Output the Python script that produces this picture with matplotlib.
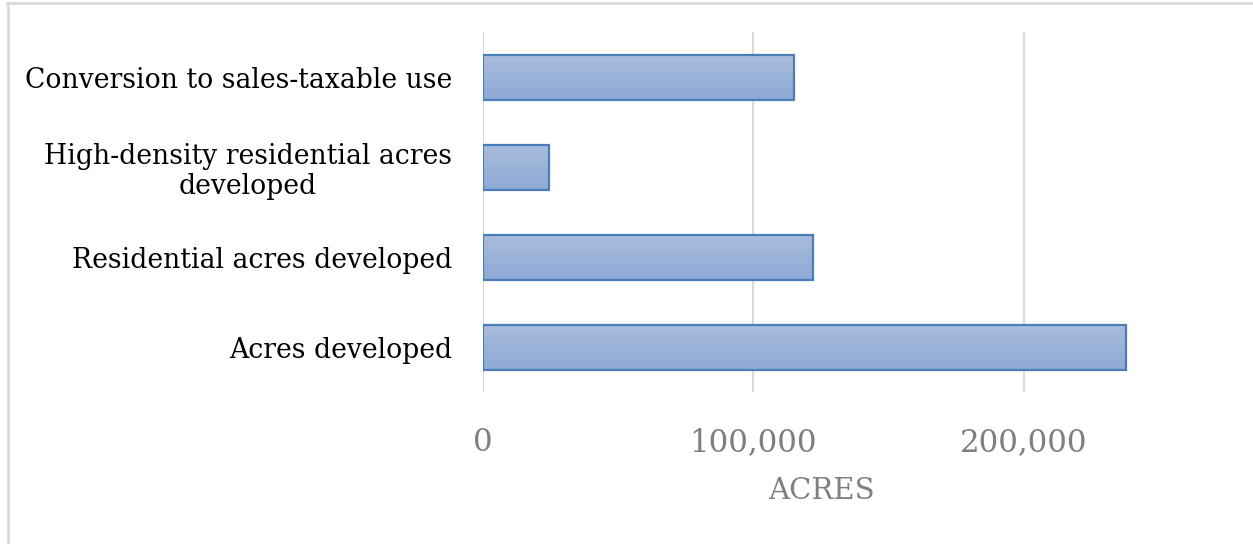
import matplotlib
matplotlib.use("Agg")
import matplotlib.pyplot as plt
import numpy as np
from matplotlib.colors import LinearSegmentedColormap
from matplotlib.lines import Line2D

categories = ["Acres developed", "Residential acres developed",
              "High-density residential acres\ndeveloped", "Conversion to sales-taxable use"]
values = [237700, 122000, 24400, 115000]
xticks = [0, 100000, 200000]
xtick_labels = ["0", "100,000", "200,000"]

fig = plt.figure(figsize=(12.53, 5.44), dpi=100)
ax = fig.add_axes([483/1253, 1-392/544, (1159-483)/1253, 360/544])

serif = ["DejaVu Serif"]
y = np.arange(len(categories))
bars = ax.barh(y, values, height=0.5, color="none", edgecolor="#4a7ebb", linewidth=1.6, zorder=3)

cmap = LinearSegmentedColormap.from_list("g", ["#aabddc", "#8eaad6"])
grad = np.linspace(0, 1, 256).reshape(-1, 1)
for b in bars:
    x0, y0 = b.get_x(), b.get_y()
    w, h = b.get_width(), b.get_height()
    im = ax.imshow(grad, extent=(x0, x0 + w, y0, y0 + h), origin="upper", cmap=cmap,
                   aspect="auto", zorder=2, interpolation="bilinear")
    im.set_clip_path(b)

ax.set_xlim(0, 250000)
ax.set_ylim(-0.5, 3.5)
ax.set_xticks(xticks)
ax.set_xticklabels(xtick_labels, family=serif, fontsize=22.2, color="#7f7f7f")
ax.set_yticks(y)
ax.set_yticklabels(categories, family=serif, fontsize=19.2, color="#000000", ha="right",
                   multialignment="center", linespacing=1.15)
ax.tick_params(axis="both", length=0)
ax.tick_params(axis="y", pad=22.3)
ax.tick_params(axis="x", pad=25)
ax.grid(axis="x", color="#d9d9d9", linewidth=1.5, zorder=0)
ax.set_axisbelow(True)
for s in ax.spines.values():
    s.set_visible(False)
ax.set_xlabel("ACRES", family=serif, fontsize=21, color="#7f7f7f", labelpad=14)

fig.add_artist(Line2D([7/1253, 1], [1-2.5/544, 1-2.5/544], color="#d9d9d9", linewidth=2, transform=fig.transFigure))
fig.add_artist(Line2D([7.5/1253, 7.5/1253], [0, 1-2.5/544], color="#d9d9d9", linewidth=2, transform=fig.transFigure))

fig.savefig("out.png", dpi=100, facecolor="white")
